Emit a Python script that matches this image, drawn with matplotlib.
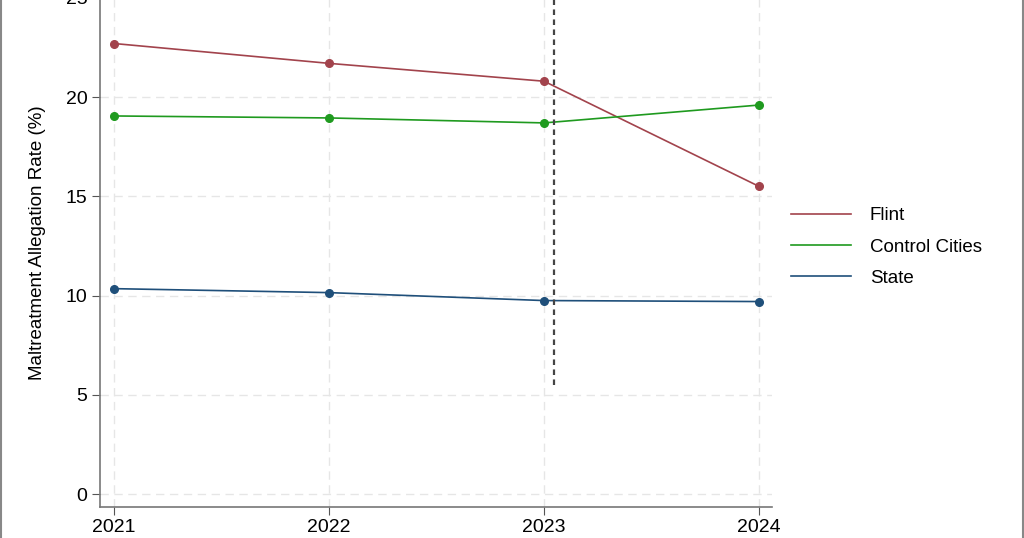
import matplotlib.pyplot as plt
from matplotlib.lines import Line2D
from matplotlib.patches import Rectangle

plt.rcParams['font.family'] = ['Liberation Sans', 'DejaVu Sans']

years = [2021, 2022, 2023, 2024]
flint = [22.7, 21.7, 20.8, 15.5]
control = [19.05, 18.95, 18.7, 19.6]
state = [10.35, 10.15, 9.75, 9.7]
labels = ['Flint', 'Control Cities', 'State']
colors = ['#a2434c', '#1f9a1f', '#1f4f7a']

fig = plt.figure(figsize=(10.24, 5.38), dpi=100)
ax = fig.add_axes([100/1024, 31/538, 672/1024, 529/538])

for vals, c in zip([flint, control, state], colors):
    ax.plot(years, vals, color=c, lw=1.2, marker='o', ms=5.5)

ax.plot([2023.045, 2023.045], [5.5, 26], color='#444444', lw=1.6, ls=(0, (2.5, 2)))

ax.set_xlim(2020.935, 2024.06)
ax.set_ylim(-0.65, 26)
ax.set_xticks(years)
ax.set_yticks([0, 5, 10, 15, 20, 25])
ax.grid(True, color='#e6e6e6', ls=(0, (6, 4)), lw=1)
ax.set_axisbelow(True)
for s in ['top', 'right']:
    ax.spines[s].set_visible(False)
for s in ['left', 'bottom']:
    ax.spines[s].set_color('#777777')
    ax.spines[s].set_linewidth(1.2)
ax.tick_params(labelsize=14, color='#555555', length=6, pad=3)
ax.set_ylabel('Maltreatment Allegation Rate (%)', fontsize=13.5, labelpad=14)

handles = [Line2D([], [], color=c, lw=1.2) for c in colors]
fig.legend(handles, labels, loc='center left', bbox_to_anchor=(774/1024, 1 - 247/538),
           frameon=False, fontsize=13.5, handlelength=3.2, handletextpad=1.0, labelspacing=0.75)

fig.patches.append(Rectangle((0.001, -0.05), 0.998, 1.1, transform=fig.transFigure,
                             fill=False, edgecolor='#888888', lw=1.5))

fig.savefig('out.png', dpi=100)
